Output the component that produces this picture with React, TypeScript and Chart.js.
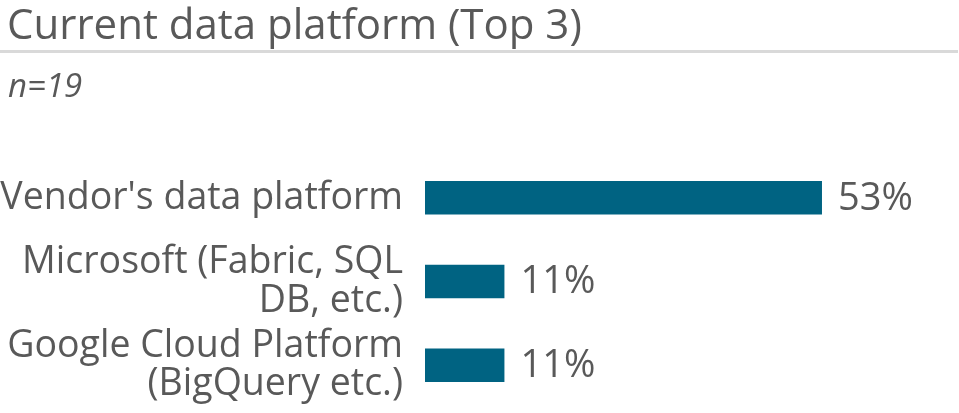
import React, { useEffect, useRef } from "react";
import { Chart, registerables } from "chart.js";

Chart.register(...registerables);

const titleText = "Current data platform (Top 3)";
const subtitleText = "n=19";
const categories: string[][] = [
  ["Vendor's data platform"],
  ["Microsoft (Fabric, SQL", "DB, etc.)"],
  ["Google Cloud Platform", "(BigQuery etc.)"],
];
const values = [52.63, 10.53, 10.53];
const valueLabels = ["53%", "11%", "11%"];

const BAR_COLOR = "#006382";
const TEXT_COLOR = "#595959";
const FONT = "'Open Sans', sans-serif";

const valueLabelPlugin = {
  id: "valueLabels",
  afterDatasetsDraw(chart: any) {
    const ctx = chart.ctx;
    const meta = chart.getDatasetMeta(0);
    ctx.save();
    ctx.font = `38px ${FONT}`;
    ctx.fillStyle = TEXT_COLOR;
    ctx.textAlign = "left";
    ctx.textBaseline = "middle";
    meta.data.forEach((bar: any, i: number) => {
      ctx.fillText(valueLabels[i], bar.x + 16, bar.y + 1);
    });
    ctx.restore();
  },
};

export default function App() {
  const ref = useRef<HTMLCanvasElement | null>(null);
  useEffect(() => {
    if (!ref.current) return;
    const chart = new Chart(ref.current, {
      type: "bar",
      data: {
        labels: categories,
        datasets: [
          {
            data: values,
            backgroundColor: BAR_COLOR,
            borderWidth: 0,
            categoryPercentage: 1,
            barPercentage: 0.4,
          },
        ],
      },
      options: {
        indexAxis: "y",
        animation: false,
        responsive: false,
        maintainAspectRatio: false,
        layout: { padding: { top: 156, bottom: 6, left: 0, right: 6 } },
        plugins: {
          legend: { display: false },
          tooltip: { enabled: false },
          title: { display: false },
        },
        scales: {
          x: {
            display: false,
            min: 0,
            max: 70,
          },
          y: {
            grid: { display: false, drawTicks: false },
            border: { display: false },
            ticks: {
              autoSkip: false,
              padding: 22,
              color: TEXT_COLOR,
              font: { family: FONT, size: 37.5, lineHeight: 1.03 },
            },
            afterFit(scale: any) {
              scale.width = 425;
              scale.paddingTop = 0;
              scale.paddingBottom = 0;
            },
          },
        },
      },
      plugins: [valueLabelPlugin],
    });
    return () => chart.destroy();
  }, []);

  return (
    <div
      style={{
        position: "absolute",
        left: 0,
        top: 0,
        width: 959,
        height: 413,
        background: "#fff",
        overflow: "hidden",
        fontFamily: FONT,
        color: TEXT_COLOR,
      }}
    >
      <canvas ref={ref} width={959} height={413} style={{ position: "absolute", left: 0, top: 0 }} />
      <div
        style={{
          position: "absolute",
          left: 7,
          top: 2,
          fontSize: 42,
          lineHeight: "42px",
          whiteSpace: "nowrap",
        }}
      >
        {titleText}
      </div>
      <div
        style={{
          position: "absolute",
          left: 0,
          top: 50,
          width: 958,
          height: 3,
          background: "#d9d9d9",
        }}
      />
      <div
        style={{
          position: "absolute",
          left: 8,
          top: 68,
          fontSize: 33,
          lineHeight: "33px",
          fontStyle: "italic",
          whiteSpace: "nowrap",
        }}
      >
        {subtitleText}
      </div>
    </div>
  );
}
